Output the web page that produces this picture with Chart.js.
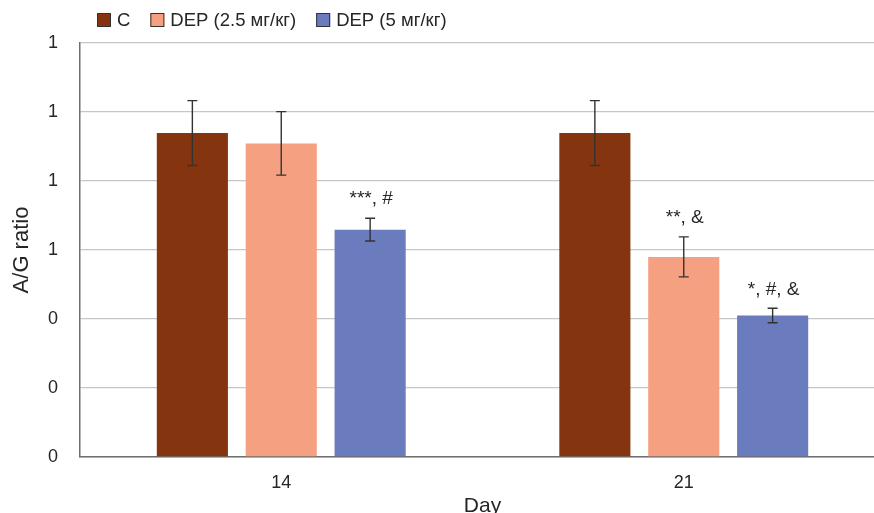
<!DOCTYPE html>
<html>
<head>
<meta charset="utf-8">
<script src="https://cdn.jsdelivr.net/npm/chart.js@4.4.1/dist/chart.umd.min.js"></script>
<style>
html,body{margin:0;padding:0;background:#fff;overflow:hidden;}
#wrap{width:874px;height:513px;position:relative;overflow:hidden;}
</style>
</head>
<body>
<div id="wrap"><canvas id="c" width="886" height="513"></canvas></div>
<script>
const categories = ['14', '21'];
const seriesNames = ['C', 'DEP (2.5 мг/кг)', 'DEP (5 мг/кг)'];
const valuesC = [0.939, 0.939];
const valuesDEP25 = [0.909, 0.580];
const valuesDEP5 = [0.659, 0.410];
const errC = [0.094, 0.094];
const errDEP25 = [0.092, 0.058];
const errDEP5 = [0.033, 0.021];
const notesC = ['', ''];
const notesDEP25 = ['', '**, &'];
const notesDEP5 = ['***, #', '*, #, &'];
const yTicks = [0, 0.2, 0.4, 0.6, 0.8, 1.0, 1.2];
const colors = ['#843510', '#F5A080', '#6A7BBE'];

const FONT = "'Liberation Sans', Arial, sans-serif";
const TXT = '#262626';

const errorBarPlugin = {
  id: 'errorBars',
  afterDatasetsDraw(chart) {
    const ctx = chart.ctx;
    const y = chart.scales.y;
    chart.data.datasets.forEach((ds, di) => {
      const meta = chart.getDatasetMeta(di);
      meta.data.forEach((bar, i) => {
        const v = ds.data[i], e = ds.errors[i];
        const x = bar.x;
        const yt = y.getPixelForValue(v + e);
        const yb = y.getPixelForValue(v - e);
        ctx.save();
        ctx.strokeStyle = '#333333';
        ctx.lineWidth = 1.4;
        ctx.beginPath();
        ctx.moveTo(x, yt); ctx.lineTo(x, yb);
        ctx.moveTo(x - 5, yt); ctx.lineTo(x + 5, yt);
        ctx.moveTo(x - 5, yb); ctx.lineTo(x + 5, yb);
        ctx.stroke();
        const note = ds.notes[i];
        if (note) {
          ctx.fillStyle = TXT;
          ctx.font = '19px ' + FONT;
          ctx.textAlign = 'center';
          ctx.textBaseline = 'middle';
          ctx.fillText(note, x + 1, yt - 19);
        }
        ctx.restore();
      });
    });
  }
};

const legendPlugin = {
  id: 'customLegend',
  afterDraw(chart) {
    const ctx = chart.ctx;
    ctx.save();
    ctx.font = '18.5px ' + FONT;
    ctx.textBaseline = 'middle';
    ctx.textAlign = 'left';
    let x = 97;
    const cy = 20;
    chart.data.datasets.forEach(ds => {
      ctx.fillStyle = ds.backgroundColor;
      ctx.fillRect(x, cy - 7, 14, 14);
      ctx.strokeStyle = '#333333';
      ctx.lineWidth = 1;
      ctx.strokeRect(x + 0.5, cy - 6.5, 13, 13);
      ctx.fillStyle = TXT;
      ctx.fillText(ds.label, x + 20, cy + 1);
      x += 20 + ctx.measureText(ds.label).width + 20;
    });
    ctx.restore();
  }
};

const dataSets = [valuesC, valuesDEP25, valuesDEP5];
const errSets = [errC, errDEP25, errDEP5];
const noteSets = [notesC, notesDEP25, notesDEP5];

new Chart(document.getElementById('c'), {
  type: 'bar',
  data: {
    labels: categories,
    datasets: seriesNames.map((n, i) => ({
      label: n,
      data: dataSets[i],
      errors: errSets[i],
      notes: noteSets[i],
      backgroundColor: colors[i],
      borderWidth: 0,
      barPercentage: 0.8,
      categoryPercentage: 0.6625
    }))
  },
  options: {
    responsive: false,
    animation: false,
    devicePixelRatio: 1,
    layout: { padding: { top: 43, right: 1, left: 0, bottom: 0 } },
    plugins: {
      legend: { display: false },
      tooltip: { enabled: false }
    },
    scales: {
      x: {
        grid: { display: false, drawTicks: false },
        border: { color: '#6e6e6e', width: 1.5 },
        ticks: { color: TXT, font: { family: FONT, size: 18 }, padding: 15 },
        title: { display: true, text: 'Day', color: TXT, font: { family: FONT, size: 21, lineHeight: 0.6 }, padding: { top: 0, bottom: 0 } },
        afterFit(s) { s.height = 56; }
      },
      y: {
        min: 0, max: 1.2,
        afterBuildTicks(s) { s.ticks = yTicks.map(v => ({ value: v })); },
        grid: { color: '#c6c6c6', lineWidth: 1.3, drawTicks: false },
        border: { color: '#6e6e6e', width: 1.5 },
        ticks: {
          color: TXT, font: { family: FONT, size: 18 }, padding: 22,
          callback: v => Number(v).toFixed(0)
        },
        title: { display: true, text: 'A/G ratio', color: TXT, font: { family: FONT, size: 22 }, padding: { top: 9, bottom: 0 } },
        afterFit(s) { s.width = 80; }
      }
    }
  },
  plugins: [errorBarPlugin, legendPlugin]
});
</script>
</body>
</html>
